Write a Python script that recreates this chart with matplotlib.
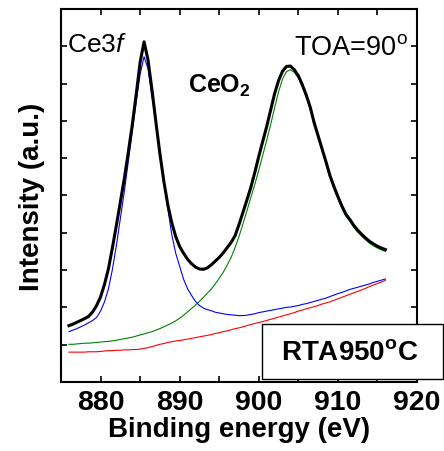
import matplotlib
matplotlib.use('Agg')
import matplotlib.pyplot as plt
import numpy as np
from matplotlib.patches import Rectangle
from matplotlib.ticker import MultipleLocator

plt.rcParams['font.family'] = ['Liberation Sans', 'DejaVu Sans']
plt.rcParams['mathtext.fontset'] = 'custom'
plt.rcParams['mathtext.rm'] = 'Liberation Sans'
plt.rcParams['mathtext.it'] = 'Liberation Sans:italic'
plt.rcParams['mathtext.bf'] = 'Liberation Sans:bold'

# binding energy grid (eV), 876 .. 916 in 0.5 eV steps
energy = np.arange(876, 916.25, 0.5)

total = [1.51, 1.55, 1.60, 1.65, 1.70, 1.76, 1.88, 2.05, 2.28, 2.62,
         3.04, 3.60, 4.20, 4.82, 5.45, 6.15, 6.88, 7.70, 8.57, 9.12,
         8.63, 7.83, 6.96, 6.12, 5.38, 4.75, 4.27, 3.90, 3.63, 3.45,
         3.29, 3.17, 3.08, 3.03, 3.02, 3.06, 3.14, 3.24, 3.34, 3.46,
         3.60, 3.74, 3.92, 4.22, 4.55, 4.88, 5.22, 5.62, 6.05, 6.45,
         6.85, 7.29, 7.73, 8.08, 8.33, 8.46, 8.47, 8.37, 8.21, 7.97,
         7.69, 7.37, 6.95, 6.60, 6.25, 5.90, 5.53, 5.24, 4.97, 4.72,
         4.50, 4.36, 4.20, 4.07, 3.96, 3.86, 3.77, 3.70, 3.64, 3.59,
         3.55]

# Ce3f component (blue)
ce3f = [1.35, 1.39, 1.43, 1.48, 1.53, 1.59, 1.65, 1.73, 1.90, 2.15,
        2.50, 3.02, 3.66, 4.38, 5.10, 5.90, 6.70, 7.50, 8.25, 8.72,
        8.40, 7.65, 6.98, 6.20, 5.40, 4.65, 3.95, 3.45, 3.10, 2.75,
        2.50, 2.32, 2.16, 2.05, 1.98, 1.94, 1.91, 1.87, 1.85, 1.83,
        1.81, 1.80, 1.79, 1.78, 1.78, 1.79, 1.81, 1.83, 1.86, 1.88,
        1.90, 1.92, 1.94, 1.96, 1.98, 2.00, 2.01, 2.03, 2.05, 2.08,
        2.10, 2.13, 2.16, 2.19, 2.22, 2.25, 2.29, 2.33, 2.37, 2.40,
        2.44, 2.48, 2.51, 2.54, 2.57, 2.60, 2.63, 2.67, 2.70, 2.73,
        2.76]

# CeO2 component (green)
ceo2 = [1.01, 1.01, 1.02, 1.03, 1.04, 1.04, 1.05, 1.06, 1.07, 1.08,
        1.09, 1.10, 1.12, 1.14, 1.16, 1.18, 1.20, 1.23, 1.26, 1.29,
        1.32, 1.35, 1.39, 1.43, 1.48, 1.53, 1.58, 1.64, 1.71, 1.79,
        1.88, 1.97, 2.06, 2.16, 2.27, 2.38, 2.49, 2.63, 2.78, 2.94,
        3.13, 3.34, 3.60, 3.90, 4.24, 4.59, 4.95, 5.30, 5.68, 6.08,
        6.48, 6.90, 7.35, 7.78, 8.12, 8.32, 8.37, 8.30, 8.15, 7.92,
        7.64, 7.32, 6.90, 6.55, 6.20, 5.85, 5.48, 5.19, 4.92, 4.67,
        4.45, 4.31, 4.15, 4.02, 3.91, 3.81, 3.72, 3.65, 3.59, 3.54,
        3.50]

# background (red)
background = [0.80, 0.80, 0.80, 0.80, 0.80, 0.81, 0.81, 0.81, 0.82, 0.83,
              0.84, 0.84, 0.85, 0.85, 0.86, 0.86, 0.87, 0.87, 0.88, 0.90,
              0.92, 0.95, 0.98, 1.01, 1.03, 1.06, 1.08, 1.10, 1.11, 1.13,
              1.15, 1.17, 1.19, 1.21, 1.23, 1.25, 1.27, 1.30, 1.32, 1.35,
              1.37, 1.40, 1.43, 1.45, 1.48, 1.51, 1.54, 1.57, 1.59, 1.62,
              1.65, 1.68, 1.71, 1.74, 1.77, 1.80, 1.83, 1.86, 1.90, 1.93,
              1.96, 1.99, 2.02, 2.05, 2.09, 2.12, 2.15, 2.19, 2.23, 2.27,
              2.31, 2.35, 2.39, 2.43, 2.47, 2.51, 2.56, 2.60, 2.64, 2.68,
              2.72]

fig = plt.figure(figsize=(4.44, 4.52), dpi=100)
ax = fig.add_axes([0.1374, 0.1527, 0.8018, 0.8252])

ax.plot(energy, background, color='#ff0000', lw=0.8)
ax.plot(energy, ceo2, color='#008000', lw=0.8)
ax.plot(energy, ce3f, color='#0000ff', lw=0.8)
ax.plot(energy, total, color='black', lw=2.2)

ax.set_xlim(875, 920)
ax.set_ylim(0, 10)
ax.xaxis.set_major_locator(MultipleLocator(10))
ax.xaxis.set_minor_locator(MultipleLocator(5))
ax.yaxis.set_major_locator(MultipleLocator(1))
ax.set_yticklabels([])
ax.tick_params(which='both', direction='in', top=True, right=True,
               length=4, width=1.2)
ax.tick_params(axis='x', labelsize=20.5, pad=5)
for lbl in ax.get_xticklabels():
    lbl.set_fontweight('bold')
for sp in ax.spines.values():
    sp.set_linewidth(1.5)

ax.set_xlabel('Binding energy (eV)', fontsize=20, fontweight='bold', labelpad=1)
ax.set_ylabel('Intensity (a.u.)', fontsize=20, fontweight='bold', labelpad=8)

# annotations
fig.text(67 / 444, 1 - 52 / 452, r'Ce3$\mathit{f}$', fontsize=19, va='baseline')
fig.text(188 / 444, 1 - 93 / 452, r'CeO$_\mathbf{2}$', fontsize=18,
         fontweight='bold', va='baseline')
fig.text(408 / 444, 1 - 55 / 452, r'TOA=90$^\mathrm{o}$', fontsize=19.5,
         ha='right', va='baseline')

# sample label box, sticks out past the right spine
box = Rectangle((262 / 444, 1 - 380 / 452), 181 / 444, 55 / 452,
                transform=fig.transFigure, facecolor='white',
                edgecolor='black', lw=1.0, zorder=5)
fig.patches.append(box)
fig.text((259 + 181 / 2) / 444, 1 - 353 / 452, r'RTA950$^\mathbf{o}$C',
         fontsize=20, fontweight='bold', ha='center', va='center', zorder=6)

fig.savefig('out.png', dpi=100)
